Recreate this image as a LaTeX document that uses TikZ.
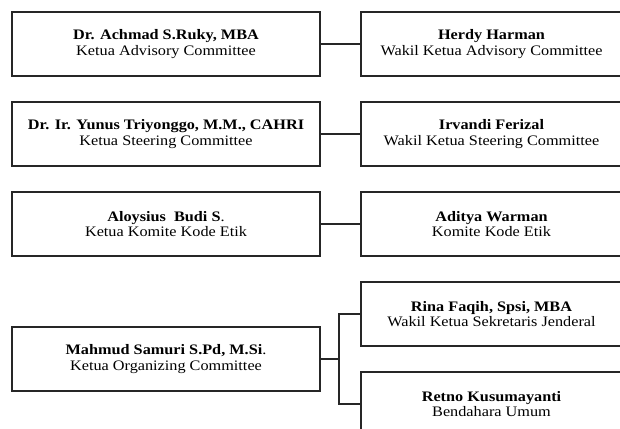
\documentclass[tikz,border=0pt]{standalone}
\usepackage{fontspec}
\setmainfont{Liberation Serif}[FakeStretch=1.12]
\usepackage{tikz}
\usetikzlibrary{positioning}

\tikzset{
	box/.style={draw=black!85, line width=1.3pt, align=center, inner sep=0pt,
		minimum height=64pt, font=\fontsize{14.5}{15.5}\selectfont},
	leftbox/.style={box, minimum width=308pt},
	rightbox/.style={box, minimum width=261pt},
	link/.style={draw=black!85, line width=1.3pt}
}

\begin{document}
\begin{tikzpicture}[x=1pt,y=-1pt]
	\useasboundingbox (0,0) rectangle (620,428);
	\clip (0,0) rectangle (620,428);
	% advisory
	\node[leftbox] (adv) at (166,44) {\textbf{Dr. Achmad S.Ruky, MBA}\\Ketua Advisory Committee};
	\node[rightbox] (wadv) at (491.5,44) {\textbf{Herdy Harman}\\Wakil Ketua Advisory Committee};
	% steering
	\node[leftbox] (str) at (166,134) {\textbf{Dr. Ir. Yunus Triyonggo, M.M., CAHRI}\\Ketua Steering Committee};
	\node[rightbox] (wstr) at (491.5,134) {\textbf{Irvandi Ferizal}\\Wakil Ketua Steering Committee};
	% kode etik
	\node[leftbox] (etik) at (166,224) {\textbf{Aloysius\ \ Budi S}.\\Ketua Komite Kode Etik};
	\node[rightbox] (ketik) at (491.5,224) {\textbf{Aditya Warman}\\Komite Kode Etik};
	% organizing
	\node[leftbox] (org) at (166,359) {\textbf{Mahmud Samuri S.Pd, M.Si}.\\Ketua Organizing Committee};
	\node[rightbox] (sekjen) at (491.5,314) {\textbf{Rina Faqih, Spsi, MBA}\\Wakil Ketua Sekretaris Jenderal};
	\node[rightbox] (bend) at (491.5,404) {\textbf{Retno Kusumayanti}\\Bendahara Umum};
	\coordinate (j) at (339,359);

	\draw[link] (adv) -- (wadv);
	\draw[link] (str) -- (wstr);
	\draw[link] (etik) -- (ketik);
	\draw[link] (org) -- (j);
	\draw[link] (sekjen.west) -| (j) |- (bend.west);
\end{tikzpicture}
\end{document}
